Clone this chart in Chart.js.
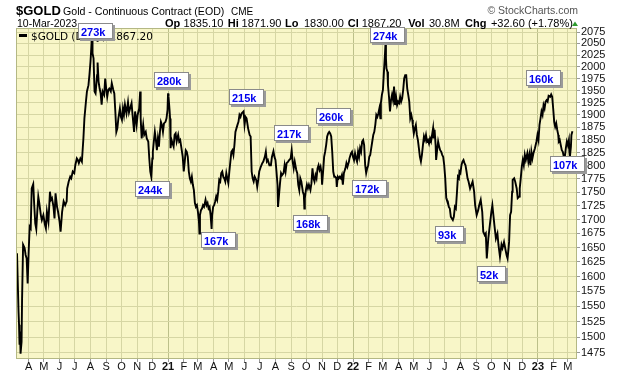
<!DOCTYPE html>
<html lang="en">
<head>
<meta charset="UTF-8">
<title>$GOLD</title>
<script src="https://cdn.jsdelivr.net/npm/chart.js@4.4.0/dist/chart.umd.min.js"></script>
<style>
  html, body { margin: 0; padding: 0; background: #fff; }
  #wrap { width: 620px; height: 376px; }
</style>
</head>
<body>
<div id="wrap"><canvas id="goldChart" width="620" height="376"></canvas></div>
<script>
var dates = [
 '2020-03-09','2020-03-12','2020-03-13','2020-03-14','2020-03-15','2020-03-16','2020-03-18','2020-03-19','2020-03-21','2020-03-24','2020-03-26','2020-03-28','2020-03-30',
 '2020-04-01','2020-04-03','2020-04-05','2020-04-07','2020-04-10','2020-04-12','2020-04-14','2020-04-16','2020-04-18','2020-04-20','2020-04-22','2020-04-25','2020-04-27','2020-04-30',
 '2020-05-03','2020-05-05','2020-05-07','2020-05-10','2020-05-13','2020-05-15','2020-05-17','2020-05-20','2020-05-22','2020-05-24','2020-05-27','2020-05-29',
 '2020-06-01','2020-06-03','2020-06-06','2020-06-09','2020-06-12','2020-06-15','2020-06-16','2020-06-19','2020-06-22','2020-06-24','2020-06-27','2020-06-30',
 '2020-07-02','2020-07-05','2020-07-07','2020-07-09','2020-07-12','2020-07-15','2020-07-18','2020-07-20','2020-07-23','2020-07-25','2020-07-28','2020-07-30',
 '2020-08-01','2020-08-03','2020-08-04','2020-08-05','2020-08-07','2020-08-09','2020-08-11','2020-08-14','2020-08-15','2020-08-17','2020-08-19','2020-08-21','2020-08-23','2020-08-25','2020-08-28','2020-08-30',
 '2020-09-01','2020-09-03','2020-09-05','2020-09-07','2020-09-10','2020-09-12','2020-09-15','2020-09-17','2020-09-19','2020-09-21','2020-09-23','2020-09-25','2020-09-28','2020-09-30',
 '2020-10-02','2020-10-04','2020-10-06','2020-10-08','2020-10-11','2020-10-14','2020-10-16','2020-10-21','2020-10-23','2020-10-26','2020-10-28','2020-10-31',
 '2020-11-02','2020-11-05','2020-11-07','2020-11-08','2020-11-10','2020-11-13','2020-11-15','2020-11-18','2020-11-20','2020-11-23','2020-11-25','2020-11-27','2020-11-29',
 '2020-12-01','2020-12-02','2020-12-04','2020-12-06','2020-12-08','2020-12-10','2020-12-12','2020-12-14','2020-12-16','2020-12-18','2020-12-20','2020-12-22','2020-12-24','2020-12-27','2020-12-29','2020-12-31',
 '2021-01-01','2021-01-02','2021-01-04','2021-01-05','2021-01-06','2021-01-08','2021-01-10','2021-01-12','2021-01-14','2021-01-16','2021-01-18','2021-01-21','2021-01-23','2021-01-25','2021-01-27','2021-01-30',
 '2021-02-01','2021-02-03','2021-02-05','2021-02-07','2021-02-09','2021-02-11','2021-02-13','2021-02-15','2021-02-17','2021-02-19','2021-02-21','2021-02-23','2021-02-25','2021-02-27',
 '2021-03-01','2021-03-03','2021-03-04','2021-03-05','2021-03-07','2021-03-09','2021-03-11','2021-03-13','2021-03-16','2021-03-18','2021-03-20','2021-03-22','2021-03-24','2021-03-26','2021-03-28','2021-03-29','2021-03-31',
 '2021-04-02','2021-04-04','2021-04-06','2021-04-08','2021-04-10','2021-04-12','2021-04-14','2021-04-16','2021-04-18','2021-04-20','2021-04-22','2021-04-24','2021-04-26','2021-04-28','2021-04-30',
 '2021-05-02','2021-05-04','2021-05-06','2021-05-08','2021-05-10','2021-05-12','2021-05-14','2021-05-16','2021-05-18','2021-05-20','2021-05-22','2021-05-24','2021-05-26','2021-05-30',
 '2021-06-01','2021-06-03','2021-06-05','2021-06-08','2021-06-11','2021-06-13','2021-06-15','2021-06-17','2021-06-19','2021-06-21','2021-06-24','2021-06-26','2021-06-28','2021-06-30',
 '2021-07-03','2021-07-06','2021-07-08','2021-07-11','2021-07-13','2021-07-15','2021-07-17','2021-07-20','2021-07-23','2021-07-25','2021-07-28','2021-07-30',
 '2021-08-01','2021-08-03','2021-08-05','2021-08-06','2021-08-08','2021-08-10','2021-08-12','2021-08-14','2021-08-17','2021-08-19','2021-08-21','2021-08-23','2021-08-26','2021-08-28','2021-08-31',
 '2021-09-02','2021-09-04','2021-09-06','2021-09-08','2021-09-11','2021-09-13','2021-09-15','2021-09-17','2021-09-19','2021-09-21','2021-09-24','2021-09-26','2021-09-27','2021-09-28','2021-09-30',
 '2021-10-02','2021-10-04','2021-10-06','2021-10-09','2021-10-11','2021-10-13','2021-10-15','2021-10-17','2021-10-19','2021-10-21','2021-10-23','2021-10-25','2021-10-27','2021-10-29','2021-10-31',
 '2021-11-01','2021-11-03','2021-11-05','2021-11-07','2021-11-09','2021-11-11','2021-11-13','2021-11-15','2021-11-17','2021-11-19','2021-11-21','2021-11-23','2021-11-25','2021-11-27','2021-11-29','2021-11-30',
 '2021-12-02','2021-12-04','2021-12-06','2021-12-08','2021-12-10','2021-12-12','2021-12-14','2021-12-17','2021-12-19','2021-12-21','2021-12-24','2021-12-25','2021-12-28','2021-12-30',
 '2022-01-01','2022-01-03','2022-01-05','2022-01-07','2022-01-09','2022-01-11','2022-01-13','2022-01-15','2022-01-17','2022-01-19','2022-01-21','2022-01-23','2022-01-25','2022-01-27','2022-01-29','2022-01-31',
 '2022-02-02','2022-02-04','2022-02-06','2022-02-08','2022-02-10','2022-02-12','2022-02-14','2022-02-16','2022-02-18','2022-02-20','2022-02-22','2022-02-24','2022-02-25','2022-02-27',
 '2022-03-01','2022-03-03','2022-03-05','2022-03-06','2022-03-07','2022-03-08','2022-03-10','2022-03-11','2022-03-13','2022-03-15','2022-03-17','2022-03-19','2022-03-21','2022-03-23','2022-03-25','2022-03-27','2022-03-29','2022-03-31',
 '2022-04-02','2022-04-04','2022-04-06','2022-04-08','2022-04-10','2022-04-12','2022-04-14','2022-04-16','2022-04-18','2022-04-20','2022-04-22','2022-04-24','2022-04-26','2022-04-28','2022-04-29',
 '2022-05-01','2022-05-03','2022-05-05','2022-05-07','2022-05-09','2022-05-11','2022-05-13','2022-05-15','2022-05-17','2022-05-19','2022-05-21','2022-05-23','2022-05-25','2022-05-27','2022-05-29','2022-05-31',
 '2022-06-02','2022-06-04','2022-06-06','2022-06-08','2022-06-09','2022-06-11','2022-06-13','2022-06-14','2022-06-16','2022-06-18','2022-06-20','2022-06-22','2022-06-24','2022-06-26','2022-06-28','2022-06-30',
 '2022-07-02','2022-07-04','2022-07-05','2022-07-07','2022-07-09','2022-07-11','2022-07-13','2022-07-15','2022-07-17','2022-07-19','2022-07-21','2022-07-23','2022-07-25','2022-07-27','2022-07-29','2022-07-30',
 '2022-08-01','2022-08-03','2022-08-05','2022-08-07','2022-08-09','2022-08-11','2022-08-13','2022-08-15','2022-08-17','2022-08-20','2022-08-25','2022-08-28','2022-08-30',
 '2022-09-02','2022-09-05','2022-09-07','2022-09-10','2022-09-13','2022-09-15','2022-09-18','2022-09-20','2022-09-22','2022-09-25','2022-09-28',
 '2022-10-01','2022-10-03','2022-10-05','2022-10-07','2022-10-10','2022-10-13','2022-10-15','2022-10-18','2022-10-21','2022-10-23','2022-10-26','2022-10-29','2022-10-31',
 '2022-11-02','2022-11-04','2022-11-05','2022-11-07','2022-11-09','2022-11-11','2022-11-12','2022-11-15','2022-11-17','2022-11-20','2022-11-22','2022-11-25','2022-11-26','2022-11-28','2022-11-30',
 '2022-12-02','2022-12-04','2022-12-06','2022-12-08','2022-12-11','2022-12-13','2022-12-15','2022-12-17','2022-12-19','2022-12-21','2022-12-23','2022-12-26','2022-12-29','2022-12-31',
 '2023-01-02','2023-01-04','2023-01-06','2023-01-08','2023-01-10','2023-01-12','2023-01-14','2023-01-16','2023-01-18','2023-01-20','2023-01-22','2023-01-25','2023-01-27','2023-01-29','2023-01-31',
 '2023-02-02','2023-02-04','2023-02-06','2023-02-08','2023-02-10','2023-02-11','2023-02-13','2023-02-15','2023-02-17','2023-02-19','2023-02-21','2023-02-23','2023-02-25','2023-02-27',
 '2023-03-01','2023-03-03','2023-03-04','2023-03-05','2023-03-07','2023-03-08','2023-03-10'
];
var closes = [
 1640,1541,1520,1488,1509,1474,1493,1563,1655,1649,1637,1631,1588,
 1643,1687,1684,1757,1765,1726,1693,1683,1714,1742,1730,1708,1699,1708,
 1691,1684,1714,1696,1751,1736,1739,1723,1702,1748,1723,1714,
 1696,1678,1714,1733,1726,1733,1757,1770,1779,1776,1789,1786,
 1801,1814,1811,1805,1814,1808,1853,1893,1927,1948,1961,1984,
 2011,2047,2068,2029,2018,1948,1944,1982,2009,1968,1954,1944,1921,1948,1941,1975,
 1954,1937,1951,1954,1948,1965,1951,1944,1907,1866,1873,1893,1913,1896,
 1890,1913,1900,1921,1903,1926,1905,1924,1900,1866,1907,1880,
 1900,1913,1948,1893,1853,1880,1860,1866,1853,1847,1814,1789,1779,
 1814,1827,1847,1866,1850,1830,1853,1837,1866,1886,1880,1866,1883,1886,1893,1910,
 1944,1937,1910,1893,1834,1850,1843,1837,1860,1863,1847,1860,1847,1850,1837,1817,
 1789,1808,1830,1827,1817,1789,1776,1770,1779,1764,1754,1730,1723,1726,
 1714,1696,1675,1708,1717,1720,1726,1723,1736,1726,1730,1720,1723,1708,1683,1708,1723,
 1726,1733,1742,1736,1751,1773,1770,1786,1789,1779,1776,1770,1786,1776,1767,
 1789,1808,1827,1830,1821,1840,1866,1873,1880,1886,1900,1896,1903,1907,
 1880,1896,1893,1873,1860,1857,1789,1776,1770,1779,1773,1760,1773,1789,
 1798,1805,1808,1817,1827,1808,1811,1801,1801,1817,1828,1817,
 1811,1789,1764,1723,1745,1767,1786,1782,1786,1801,1789,1805,1808,1811,1814,
 1830,1808,1795,1808,1792,1786,1764,1754,1776,1770,1751,1745,1720,1739,1754,
 1764,1757,1764,1754,1767,1795,1776,1770,1782,1776,1795,1801,1792,1798,1786,
 1764,1789,1817,1827,1840,1857,1863,1866,1863,1857,1827,1789,1779,1779,1776,1760,
 1779,1776,1779,1776,1782,1764,1786,1795,1805,1798,1808,1814,1824,1827,
 1817,1811,1824,1814,1808,1827,1817,1834,1827,1847,1850,1840,1801,1786,1795,1801,
 1817,1821,1834,1847,1860,1866,1880,1900,1896,1903,1913,1893,1924,1941,
 1951,1989,2025,2047,2018,1996,1989,1961,1937,1907,1930,1941,1930,1958,1920,1937,1920,1927,
 1924,1937,1927,1934,1951,1975,1982,1982,1954,1941,1927,1893,1900,1890,1880,
 1863,1873,1880,1860,1850,1834,1817,1808,1821,1840,1857,1850,1860,1847,1850,1843,
 1853,1847,1860,1873,1853,1870,1840,1811,1830,1847,1837,1830,1827,1821,1817,1801,
 1776,1739,1736,1733,1723,1720,1705,1702,1699,1705,1723,1720,1748,1779,1776,1789,
 1786,1801,1808,1811,1805,1801,1789,1776,1770,1757,1770,1751,1726,
 1708,1717,1726,1736,1714,1678,1672,1675,1631,1666,1690,
 1714,1726,1708,1690,1666,1675,1655,1634,1655,1649,1660,1646,1637,
 1631,1649,1660,1708,1714,1751,1773,1776,1770,1757,1739,1742,1757,1776,1798,
 1811,1801,1821,1811,1824,1808,1821,1801,1827,1814,1824,1834,1847,1860,
 1850,1880,1893,1907,1900,1920,1913,1927,1930,1927,1939,1937,1942,1937,1913,
 1886,1876,1883,1870,1860,1847,1850,1840,1830,1827,1817,1817,1834,1847,
 1840,1850,1827,1817,1837,1860,1867.2
];

// month ticks on the time axis and their labels
var monthTicks = [
 '2020-04-01','2020-05-01','2020-06-01','2020-07-01','2020-08-01','2020-09-01','2020-10-01','2020-11-01','2020-12-01',
 '2021-01-01','2021-02-01','2021-03-01','2021-04-01','2021-05-01','2021-06-01','2021-07-01','2021-08-01','2021-09-01','2021-10-01','2021-11-01','2021-12-01',
 '2022-01-01','2022-02-01','2022-03-01','2022-04-01','2022-05-01','2022-06-01','2022-07-01','2022-08-01','2022-09-01','2022-10-01','2022-11-01','2022-12-01',
 '2023-01-01','2023-02-01','2023-03-01'
];
var monthLabels = [
 'A','M','J','J','A','S','O','N','D',
 '21','F','M','A','M','J','J','A','S','O','N','D',
 '22','F','M','A','M','J','J','A','S','O','N','D',
 '23','F','M'
];
var priceTicks = [1475,1500,1525,1550,1575,1600,1625,1650,1675,1700,1725,1750,1775,1800,1825,1850,1875,1900,1925,1950,1975,2000,2025,2050,2075];

// volume notes: label text and the date / price of each box's top-left corner
var noteLabels = ['273k','280k','244k','167k','215k','217k','168k','260k','172k','274k','93k','52k','160k','107k'];
var noteDates  = ['2020-07-07','2020-12-04','2020-10-28','2021-03-07','2021-05-01','2021-07-29','2021-09-05','2021-10-20','2021-12-30','2022-02-03','2022-06-12','2022-09-03','2022-12-08','2023-01-25'];
var notePrices = [2095,1988.6,1771,1677.6,1953,1879.6,1708.1,1913.9,1772.9,2086,1688.3,1617.9,1992.8,1818.7];

function dayNum(s) {
    var p = s.split('-');
    return (Date.UTC(+p[0], +p[1] - 1, +p[2]) - Date.UTC(2020, 0, 1)) / 86400000;
}

var points = dates.map(function (d, i) { return { x: dayNum(d), y: closes[i] }; });
var janDays = monthTicks.filter(function (d, i) { return monthLabels[i].length == 2; }).map(dayNum);

var plotBg = '#f8f6c8';
var gridLight = '#d6d6a4';
var gridYear = '#bcc08a';

var goldDecor = {
    id: 'goldDecor',
    beforeDraw: function (chart) {
        var ctx = chart.ctx, a = chart.chartArea;
        ctx.save();
        ctx.fillStyle = '#ffffff';
        ctx.fillRect(0, 0, chart.width, chart.height);
        ctx.fillStyle = plotBg;
        ctx.fillRect(a.left, a.top, a.right - a.left, a.bottom - a.top);
        ctx.restore();
    },
    afterDraw: function (chart) {
        var ctx = chart.ctx, a = chart.chartArea;
        var xs = chart.scales.x, ys = chart.scales.y;
        ctx.save();
        // plot frame
        ctx.strokeStyle = '#b4b884';
        ctx.lineWidth = 1;
        ctx.strokeRect(a.left + 0.5, a.top + 0.5, a.right - a.left - 1, a.bottom - a.top - 1);

        // header row 1
        ctx.fillStyle = '#000';
        ctx.textBaseline = 'alphabetic';
        ctx.font = 'bold 13px "Liberation Sans", Arial, sans-serif';
        ctx.fillText('$GOLD', 16, 15);
        ctx.font = '10.6px "Liberation Sans", Arial, sans-serif';
        ctx.fillText('Gold - Continuous Contract (EOD)', 63, 15);
        ctx.font = '10px "Liberation Sans", Arial, sans-serif';
        ctx.fillText('CME', 231, 15);
        ctx.fillStyle = '#555';
        ctx.textAlign = 'right';
        ctx.font = '10.5px "Liberation Sans", Arial, sans-serif';
        ctx.fillText('\u00a9 StockCharts.com', 578, 14);
        ctx.textAlign = 'left';

        // header row 2
        ctx.fillStyle = '#000';
        ctx.font = '10.5px "Liberation Sans", Arial, sans-serif';
        ctx.fillText('10-Mar-2023', 17, 26.5);
        var row = [
            ['Op', 165, true], ['1835.10', 183.6, false],
            ['Hi', 227.7, true], ['1871.90', 241.6, false],
            ['Lo', 285, true], ['1830.00', 304, false],
            ['Cl', 347.8, true], ['1867.20', 361.7, false],
            ['Vol', 408.2, true], ['30.8M', 429, false],
            ['Chg', 465, true], ['+32.60 (+1.78%)', 490.9, false]
        ];
        row.forEach(function (r) {
            ctx.font = (r[2] ? 'bold ' : '') + '11px "Liberation Sans", Arial, sans-serif';
            ctx.fillText(r[0], r[1], 26.5);
        });
        ctx.fillStyle = '#2e9b2e';
        ctx.beginPath();
        ctx.moveTo(572, 26);
        ctx.lineTo(578, 26);
        ctx.lineTo(575, 21.5);
        ctx.closePath();
        ctx.fill();

        // legend
        ctx.strokeStyle = '#000';
        ctx.lineWidth = 3;
        ctx.beginPath();
        ctx.moveTo(19, 35.5);
        ctx.lineTo(27, 35.5);
        ctx.stroke();
        ctx.fillStyle = '#000';
        ctx.font = '10.5px "DejaVu Sans", Verdana, sans-serif';
        ctx.fillText('$GOLD (Daily) 1867.20', 31, 39.5);

        // volume notes
        ctx.font = 'bold 11px "Liberation Sans", Arial, sans-serif';
        noteLabels.forEach(function (t, i) {
            var bx = Math.round(xs.getPixelForValue(dayNum(noteDates[i])));
            var by = Math.round(ys.getPixelForValue(notePrices[i]));
            var w = Math.round(ctx.measureText(t).width) + 11, h = 16;
            ctx.fillStyle = '#9a9a9a';
            ctx.fillRect(bx + 2, by + 2, w, h);
            ctx.fillStyle = '#ffffff';
            ctx.fillRect(bx, by, w, h);
            ctx.strokeStyle = '#8a8a8a';
            ctx.lineWidth = 1;
            ctx.strokeRect(bx + 0.5, by + 0.5, w - 1, h - 1);
            ctx.fillStyle = '#0000ee';
            ctx.fillText(t, bx + 3, by + 12.5);
        });
        ctx.restore();
    }
};

var ctx = document.getElementById('goldChart');
var chart = new Chart(ctx, {
    type: 'line',
    data: {
        datasets: [{
            label: '$GOLD',
            data: points,
            borderColor: '#000000',
            borderWidth: 1.9,
            pointRadius: 0,
            tension: 0,
            fill: false
        }]
    },
    options: {
        responsive: false,
        devicePixelRatio: 1,
        animation: false,
        events: [],
        layout: { padding: { top: 28, left: 16, right: 0, bottom: 0 } },
        plugins: { legend: { display: false }, title: { display: false }, tooltip: { enabled: false } },
        scales: {
            x: {
                type: 'linear',
                min: 66,
                max: 1173,
                afterBuildTicks: function (scale) {
                    scale.ticks = monthTicks.map(function (d) { return { value: dayNum(d) }; });
                },
                afterFit: function (scale) { scale.height = 17; },
                border: { display: false },
                grid: {
                    color: function (c) {
                        return c.tick && janDays.indexOf(c.tick.value) >= 0 ? gridYear : gridLight;
                    },
                    tickColor: '#999',
                    tickLength: 3,
                    lineWidth: 1
                },
                ticks: {
                    autoSkip: false,
                    maxRotation: 0,
                    padding: -2,
                    color: '#111',
                    font: function (c) {
                        var bold = c.tick && janDays.indexOf(c.tick.value) >= 0;
                        return { family: '"Liberation Sans", Arial, sans-serif', size: 11, weight: bold ? 'bold' : 'normal' };
                    },
                    callback: function (v, i) { return monthLabels[i]; }
                }
            },
            y: {
                type: 'logarithmic',
                position: 'right',
                min: 1465.6,
                max: 2084,
                afterBuildTicks: function (scale) {
                    scale.ticks = priceTicks.map(function (v) { return { value: v }; });
                },
                afterFit: function (scale) { scale.width = 43; },
                border: { display: false },
                grid: { color: gridLight, tickColor: '#999', tickLength: 3, lineWidth: 1 },
                ticks: {
                    autoSkip: false,
                    padding: 1,
                    color: '#111',
                    font: { family: '"Liberation Sans", Arial, sans-serif', size: 11 },
                    callback: function (v) { return String(v); }
                }
            }
        }
    },
    plugins: [goldDecor]
});
</script>
</body>
</html>
